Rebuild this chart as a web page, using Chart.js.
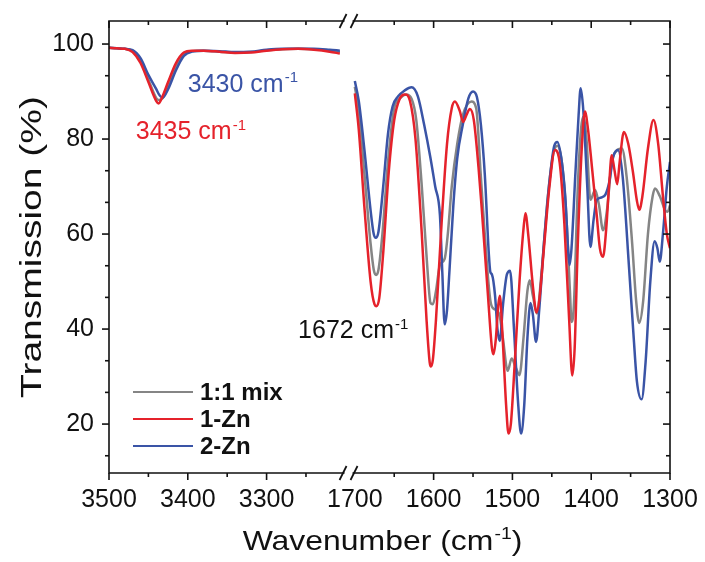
<!DOCTYPE html>
<html>
<head>
<meta charset="utf-8">
<script src="https://cdn.jsdelivr.net/npm/chart.js@4.4.0/dist/chart.umd.min.js"></script>
<style>
  html, body { margin: 0; padding: 0; background: #fff; }
  #wrap { width: 705px; height: 562px; }
</style>
</head>
<body>
<div id="wrap"><canvas id="ir"></canvas></div>
<script>
// --- Data ---
const seriesNames = ['1:1 mix', '1-Zn', '2-Zn'];
const seriesColors = ['#858585', '#e5222b', '#3a54a6'];
const drawOrder = [2, 0, 1];   // red on top, then blue, gray underneath

// high wavenumber window, 3500-3207 cm-1
const hiWn   = [3500, 3490, 3480, 3470, 3460, 3450, 3440, 3437, 3432, 3425, 3415, 3405, 3395, 3380, 3360, 3340, 3320, 3300, 3280, 3260, 3240, 3220, 3207];
const hiMix  = [99.2, 99.1, 99.0, 98.5, 96.5, 92.5, 88.6, 88.2, 88.6, 91.0, 95.5, 98.0, 98.5, 98.6, 98.4, 98.2, 98.3, 98.7, 98.9, 99.0, 98.9, 98.6, 98.3];
const hiZn1  = [99.2, 99.1, 99.0, 98.3, 96.0, 92.0, 88.0, 87.5, 89.0, 92.0, 96.0, 98.2, 98.6, 98.6, 98.4, 98.1, 98.2, 98.6, 98.9, 99.0, 98.8, 98.4, 98.0];
const hiZn2  = [99.2, 99.1, 99.0, 98.7, 97.0, 93.5, 90.5, 89.5, 88.7, 90.5, 94.5, 97.5, 98.4, 98.6, 98.5, 98.3, 98.4, 98.8, 99.0, 99.0, 99.0, 98.8, 98.6];

// fingerprint window, 1700-1300 cm-1
const mixWn = [1700, 1695, 1688, 1680, 1676, 1673, 1670, 1665, 1658, 1650, 1643, 1635, 1628, 1622, 1615, 1608, 1604, 1601, 1597, 1592, 1586, 1582, 1577, 1570, 1563, 1552, 1546, 1540, 1533, 1528, 1524, 1520, 1516, 1512, 1506, 1501, 1496, 1491, 1486, 1481, 1478, 1474, 1469, 1463, 1455, 1448, 1443, 1438, 1432, 1427, 1425, 1422, 1417, 1413, 1410, 1406, 1401, 1395, 1390, 1385, 1380, 1374, 1368, 1361, 1355, 1348, 1343, 1339, 1334, 1328, 1322, 1319, 1313, 1306, 1303, 1300];
const mixT  = [91.0, 86.0, 73.0, 58.0, 52.5, 51.4, 52.5, 60.0, 75.0, 86.5, 88.5, 89.4, 88.5, 84.0, 70.0, 53.0, 45.5, 45.2, 48.0, 53.5, 54.8, 60.0, 70.0, 79.0, 85.0, 87.9, 86.5, 72.0, 55.0, 46.0, 44.3, 44.0, 42.6, 38.0, 31.2, 33.8, 32.0, 30.3, 38.0, 48.0, 50.3, 47.0, 43.3, 52.0, 68.0, 77.0, 78.6, 76.0, 65.0, 48.0, 41.5, 45.0, 70.0, 82.0, 84.7, 80.0, 67.2, 69.3, 66.0, 60.8, 65.0, 75.0, 77.5, 78.0, 72.0, 58.0, 46.0, 41.3, 46.0, 60.0, 68.0, 69.6, 68.0, 65.0, 64.7, 66.0];

const zn1Wn = [1700, 1695, 1688, 1680, 1675, 1672.5, 1669, 1664, 1657, 1650, 1643, 1636.5, 1630, 1623, 1615, 1609, 1605, 1603.5, 1601, 1597, 1590, 1583, 1577, 1573, 1567, 1562.5, 1558, 1554, 1549, 1543, 1539, 1531, 1526, 1524, 1521, 1518, 1516, 1513, 1508, 1505, 1502, 1497, 1491, 1486, 1483.5, 1480, 1474, 1469.5, 1466, 1460, 1453, 1446, 1440, 1434, 1428, 1424, 1421, 1417, 1412, 1408, 1404, 1399, 1393, 1389, 1385, 1381, 1377, 1374, 1370.5, 1367, 1364, 1358.5, 1353, 1347, 1342, 1339, 1335, 1328, 1321, 1315, 1309, 1304, 1300];
const zn1T  = [89.6, 82.0, 66.0, 50.0, 45.2, 44.8, 46.5, 56.0, 73.0, 84.0, 88.5, 89.4, 88.0, 80.0, 60.0, 42.0, 33.0, 32.1, 33.5, 42.0, 62.0, 79.0, 86.5, 87.9, 86.0, 83.6, 85.2, 86.3, 84.0, 74.0, 65.5, 47.0, 36.0, 34.7, 38.0, 45.0, 47.0, 40.0, 24.0, 18.0, 20.0, 33.0, 50.0, 61.0, 64.4, 60.0, 49.0, 43.5, 46.0, 57.0, 70.0, 77.7, 75.0, 62.0, 42.0, 30.2, 36.0, 58.0, 78.0, 85.8, 82.0, 74.0, 64.0, 57.0, 55.2, 61.0, 71.0, 76.6, 73.5, 70.5, 75.0, 81.5, 79.0, 73.0, 67.0, 65.1, 68.0, 78.0, 84.0, 79.0, 68.0, 60.0, 57.0];

const zn2Wn = [1700, 1695, 1688, 1680, 1676, 1673.5, 1670, 1664, 1658, 1652, 1645, 1637, 1628, 1620, 1612, 1604, 1598, 1592, 1589, 1586, 1583, 1580, 1575, 1570, 1563, 1556, 1550, 1545, 1540, 1535, 1530, 1528, 1526, 1522, 1519, 1516, 1512, 1507, 1503, 1498, 1493, 1489, 1485, 1481, 1477, 1474, 1470, 1466, 1460, 1453, 1447, 1443, 1438, 1433, 1429, 1427.5, 1425, 1420, 1416, 1413.4, 1410, 1405, 1401, 1397, 1393, 1387, 1382, 1377, 1372, 1366, 1360, 1352, 1346, 1342, 1336, 1331, 1325, 1319.5, 1316, 1313, 1309, 1304, 1300];
const zn2T  = [92.2, 88.0, 78.0, 65.0, 60.0, 59.2, 60.5, 70.0, 81.0, 86.9, 89.0, 90.2, 90.9, 89.0, 83.0, 76.0, 70.0, 64.0, 52.0, 41.0, 44.0, 52.0, 66.0, 76.0, 83.0, 88.5, 90.0, 88.8, 83.0, 72.4, 56.0, 52.0, 51.5, 47.0, 40.0, 37.5, 45.0, 51.5, 52.3, 40.0, 25.0, 18.0, 24.0, 38.0, 45.5, 43.0, 37.3, 44.0, 58.0, 71.0, 78.5, 79.4, 76.0, 68.0, 56.0, 53.5, 57.0, 73.0, 85.0, 90.7, 86.0, 70.0, 57.3, 63.0, 67.2, 67.7, 68.3, 71.0, 76.3, 77.7, 72.0, 53.0, 38.0, 29.0, 25.2, 33.0, 50.0, 58.5, 57.0, 54.2, 60.0, 70.0, 75.2];

// axis: tick positions (cm-1) and labels
const xTickWn     = [3500, 3400, 3300, 1700, 1600, 1500, 1400, 1300];
const xTickLabels = ['3500', '3400', '3300', '1700', '1600', '1500', '1400', '1300'];
const xMinorWn    = [3450, 3350, 3250, 1650, 1550, 1450, 1350];
const yTicks      = [20, 40, 60, 80, 100];
const yMinor      = [13.33, 26.67, 33.33, 46.67, 53.33, 66.67, 73.33, 86.67, 93.33];

// peak annotations: text, superscript, colour, anchor in cm-1 / %T
const notes = [
  { text: '3430 cm', sup: '-1', color: '#3a54a6', wn: 3400, t: 91.8 },
  { text: '3435 cm', sup: '-1', color: '#e5222b', wn: 3466, t: 81.9 },
  { text: '1672 cm', sup: '-1', color: '#111111', wn: 3260, t: 40.0 },
];

// broken axis: both windows laid on one linear coordinate
const GAP_AT = 312;        // u where 1700 sits
const BREAK_U = 304;
const U_MAX = GAP_AT + 400;
function toU(wn) { return wn > 2500 ? 3500 - wn : GAP_AT + (1700 - wn); }

function pts(wn, t) { return wn.map((w, i) => ({ x: toU(w), y: t[i] })); }
function joined(hiT, wn, t) {
  return pts(hiWn, hiT).concat([{ x: BREAK_U, y: null }], pts(wn, t));
}

const FONT = '"Liberation Sans", Arial, Helvetica, sans-serif';
const INK = '#111';

// text with a raised part: parts = [[text, isSup], ...]; stretch widens glyphs
function drawRich(ctx, parts, x, y, size, color, align, stretch) {
  stretch = stretch || 1;
  const supSize = Math.round(size * 0.6);
  let w = 0;
  parts.forEach(([t, sup]) => {
    ctx.font = (sup ? supSize : size) + 'px ' + FONT;
    w += ctx.measureText(t).width + (sup ? 1 : 0);
  });
  ctx.save();
  ctx.translate(x, y);
  ctx.scale(stretch, 1);
  ctx.fillStyle = color;
  ctx.textAlign = 'left';
  ctx.textBaseline = 'alphabetic';
  let cx = align === 'center' ? -w / 2 : 0;
  parts.forEach(([t, sup]) => {
    ctx.font = (sup ? supSize : size) + 'px ' + FONT;
    ctx.fillText(t, cx + (sup ? 1 : 0), sup ? -size * 0.38 : 0);
    cx += ctx.measureText(t).width + (sup ? 1 : 0);
  });
  ctx.restore();
}

// frame, ticks on all four sides, axis break, legend, notes, titles
const decorations = {
  id: 'decorations',
  afterDatasetsDraw(chart) {
    const { ctx, chartArea: ca, scales } = chart;
    const sx = scales.x, sy = scales.y;
    ctx.save();
    ctx.strokeStyle = INK;
    ctx.lineWidth = 1.6;
    ctx.beginPath();
    ctx.rect(ca.left, ca.top, ca.right - ca.left, ca.bottom - ca.top);
    ctx.stroke();

    const seg = (x1, y1, x2, y2) => { ctx.beginPath(); ctx.moveTo(x1, y1); ctx.lineTo(x2, y2); ctx.stroke(); };
    xTickWn.forEach(w => {
      if (w === 1700) return;
      const px = sx.getPixelForValue(toU(w));
      seg(px, ca.bottom, px, ca.bottom + 7);
      seg(px, ca.top, px, ca.top + 7);
    });
    xMinorWn.forEach(w => {
      const px = sx.getPixelForValue(toU(w));
      seg(px, ca.bottom, px, ca.bottom + 4);
      seg(px, ca.top, px, ca.top + 4);
    });
    yTicks.forEach(v => {
      const py = sy.getPixelForValue(v);
      seg(ca.left - 7, py, ca.left, py);
      seg(ca.right - 7, py, ca.right, py);
    });
    yMinor.forEach(v => {
      const py = sy.getPixelForValue(v);
      seg(ca.left - 4, py, ca.left, py);
      seg(ca.right - 4, py, ca.right, py);
    });

    // axis break "//"
    const bx = sx.getPixelForValue(BREAK_U);
    [ca.top, ca.bottom].forEach(yy => {
      ctx.fillStyle = '#fff';
      ctx.fillRect(bx - 4, yy - 2, 8, 4);
      ctx.lineWidth = 1.8;
      seg(bx - 9, yy + 7, bx - 2, yy - 7);
      seg(bx + 2, yy + 7, bx + 9, yy - 7);
    });

    // legend
    seriesNames.forEach((name, i) => {
      const yy = ca.bottom - 81 + i * 27;
      ctx.lineWidth = 2.2;
      ctx.strokeStyle = seriesColors[i];
      seg(ca.left + 24, yy, ca.left + 84, yy);
      ctx.fillStyle = INK;
      ctx.font = 'bold 24px ' + FONT;
      ctx.textAlign = 'left';
      ctx.textBaseline = 'middle';
      ctx.fillText(name, ca.left + 91, yy + 1);
    });
    ctx.restore();

    // peak notes
    notes.forEach(n => {
      drawRich(ctx, [[n.text, false], [n.sup, true]],
        sx.getPixelForValue(toU(n.wn)), sy.getPixelForValue(n.t) + 9, 25, n.color, 'left', 1);
    });

    // axis titles
    drawRich(ctx, [['Wavenumber (cm', false], ['-1', true], [')', false]],
      (ca.left + ca.right) / 2 - 7, 550, 28, INK, 'center', 1.14);

    ctx.save();
    ctx.translate(41, (ca.top + ca.bottom) / 2);
    ctx.rotate(-Math.PI / 2);
    drawRich(ctx, [['Transmission (%)', false]], 0, 0, 30, INK, 'center', 1.3);
    ctx.restore();
  }
};

const chart = new Chart(document.getElementById('ir'), {
  type: 'line',
  data: {
    datasets: [
      { label: seriesNames[0], data: joined(hiMix, mixWn, mixT), borderColor: seriesColors[0], order: drawOrder[0] },
      { label: seriesNames[1], data: joined(hiZn1, zn1Wn, zn1T), borderColor: seriesColors[1], order: drawOrder[1] },
      { label: seriesNames[2], data: joined(hiZn2, zn2Wn, zn2T), borderColor: seriesColors[2], order: drawOrder[2] },
    ].map(d => Object.assign(d, {
      borderWidth: 2.5,
      pointRadius: 0,
      fill: false,
      spanGaps: false,
      cubicInterpolationMode: 'monotone',
    }))
  },
  options: {
    responsive: true,
    maintainAspectRatio: false,
    animation: false,
    layout: { padding: { top: 21, right: 35, left: 0, bottom: 0 } },
    plugins: { legend: { display: false }, tooltip: { enabled: false } },
    scales: {
      x: {
        type: 'linear', min: 0, max: U_MAX,
        grid: { display: false, drawTicks: false },
        border: { display: false },
        ticks: {
          autoSkip: false, maxRotation: 0, padding: 12, color: INK,
          font: { size: 25, family: FONT },
          callback: v => xTickLabels[xTickWn.findIndex(w => toU(w) === v)] || ''
        },
        afterBuildTicks: s => { s.ticks = xTickWn.map(w => ({ value: toU(w) })); },
        afterFit: s => { s.height = 89; s.paddingLeft = 0; s.paddingRight = 0; }
      },
      y: {
        min: 9.7, max: 104.85,
        grid: { display: false, drawTicks: false },
        border: { display: false },
        ticks: { padding: 15, color: INK, font: { size: 25, family: FONT } },
        afterBuildTicks: s => { s.ticks = yTicks.map(v => ({ value: v })); },
        afterFit: s => { s.width = 109; s.paddingTop = 0; s.paddingBottom = 0; }
      }
    }
  },
  plugins: [decorations]
});
</script>
</body>
</html>
